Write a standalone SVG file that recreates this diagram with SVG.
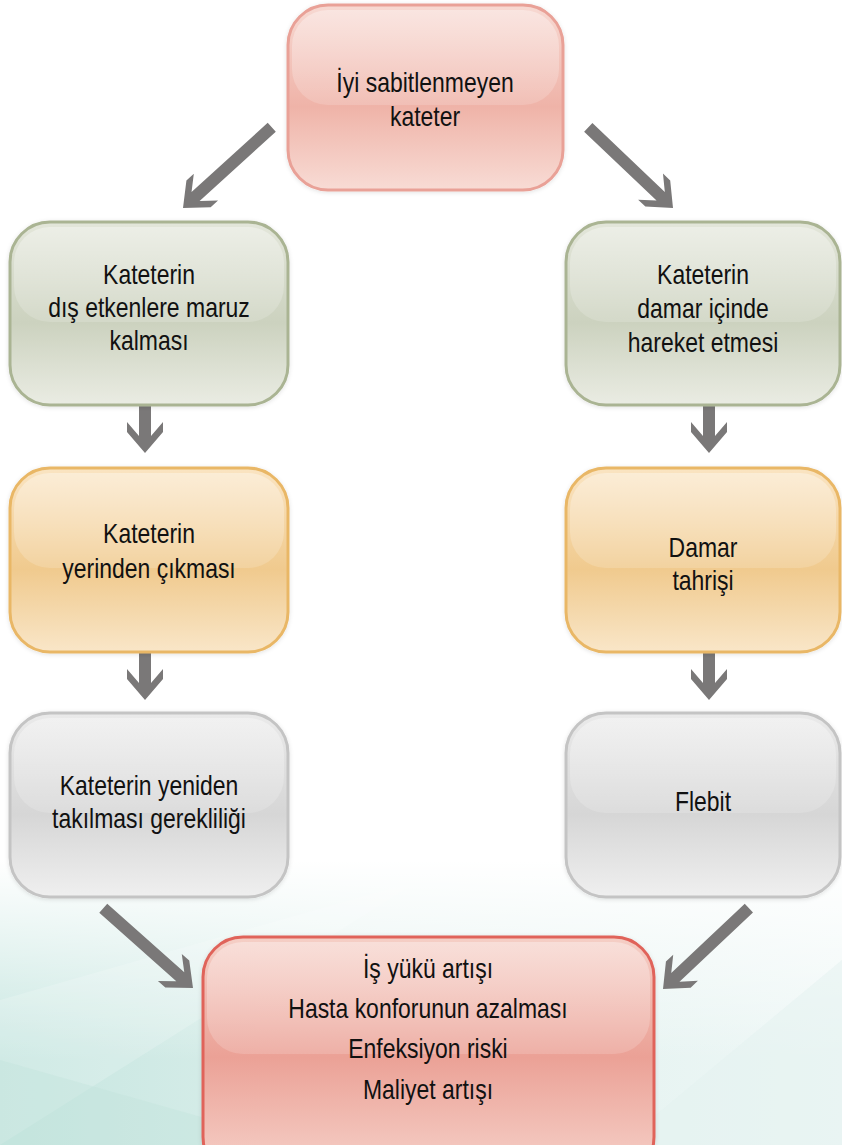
<svg xmlns="http://www.w3.org/2000/svg" width="842" height="1145" viewBox="0 0 842 1145">
<defs>
  <linearGradient id="bgV" x1="0" y1="0" x2="0" y2="1">
    <stop offset="0" stop-color="#ffffff" stop-opacity="1"/>
    <stop offset="1" stop-color="#ffffff" stop-opacity="0"/>
  </linearGradient>
  <linearGradient id="bgH" x1="0" y1="0" x2="1" y2="0">
    <stop offset="0" stop-color="#c6e6e0"/>
    <stop offset="0.45" stop-color="#dff0ed"/>
    <stop offset="1" stop-color="#eef7f6"/>
  </linearGradient>
  <linearGradient id="gRed" x1="0" y1="0" x2="0" y2="1">
    <stop offset="0" stop-color="#f7d9d2"/>
    <stop offset="0.55" stop-color="#efb3a8"/>
    <stop offset="1" stop-color="#f8dcd5"/>
  </linearGradient>
  <linearGradient id="gRed2" x1="0" y1="0" x2="0" y2="1">
    <stop offset="0" stop-color="#f5cfc6"/>
    <stop offset="0.5" stop-color="#eba196"/>
    <stop offset="1" stop-color="#f6d3cb"/>
  </linearGradient>
  <linearGradient id="gGreen" x1="0" y1="0" x2="0" y2="1">
    <stop offset="0" stop-color="#e3e6da"/>
    <stop offset="0.55" stop-color="#ccd2bf"/>
    <stop offset="1" stop-color="#eaece3"/>
  </linearGradient>
  <linearGradient id="gOrange" x1="0" y1="0" x2="0" y2="1">
    <stop offset="0" stop-color="#fae4c2"/>
    <stop offset="0.55" stop-color="#f0ca8e"/>
    <stop offset="1" stop-color="#f9e6c8"/>
  </linearGradient>
  <linearGradient id="gGray" x1="0" y1="0" x2="0" y2="1">
    <stop offset="0" stop-color="#eaeaea"/>
    <stop offset="0.55" stop-color="#d6d6d6"/>
    <stop offset="1" stop-color="#efefef"/>
  </linearGradient>
  <linearGradient id="gHi" x1="0" y1="0" x2="0" y2="1">
    <stop offset="0" stop-color="#ffffff" stop-opacity="0.35"/>
    <stop offset="1" stop-color="#ffffff" stop-opacity="0.15"/>
  </linearGradient>
  <filter id="sh" x="-10%" y="-10%" width="120%" height="120%">
    <feGaussianBlur in="SourceAlpha" stdDeviation="2"/>
    <feOffset dx="0" dy="1" result="b"/>
    <feFlood flood-color="#000" flood-opacity="0.12"/>
    <feComposite in2="b" operator="in"/>
    <feMerge><feMergeNode/><feMergeNode in="SourceGraphic"/></feMerge>
  </filter>
</defs>
<style>
  .box { stroke-width: 3; filter: url(#sh); }
  .red { fill: url(#gRed); stroke: #e9a197; }
  .red2 { fill: url(#gRed2); stroke: #e0645a; }
  .green { fill: url(#gGreen); stroke: #aab493; }
  .orange { fill: url(#gOrange); stroke: #e9b766; }
  .gray { fill: url(#gGray); stroke: #c4c4c4; }
  .hi { fill: url(#gHi); }
  .t { font-family: "Liberation Sans", Arial, sans-serif; font-size: 28px; fill: #111; text-anchor: middle; }
  .arr { fill: #7a7878; }
</style>

<rect width="842" height="1145" fill="#ffffff"/>
<g id="background">
  <rect x="0" y="860" width="842" height="285" fill="url(#bgH)"/>
  <rect x="0" y="860" width="842" height="200" fill="url(#bgV)"/>
  <polygon points="0,1000 420,880 0,1145" fill="#ffffff" opacity="0.18"/>
  <polygon points="0,1060 300,1145 0,1145" fill="#bfe2db" opacity="0.35"/>
  <polygon points="620,1145 842,960 842,1145" fill="#e3f1ef" opacity="0.5"/>
</g>

<g id="connectors">
  <polygon class="arr" transform="translate(183,208) rotate(47.7)" points="0,0 -18,-21 -18,-31 -6,-17 -6,-120 6,-120 6,-17 18,-31 18,-21"/>
  <polygon class="arr" transform="translate(673,208) rotate(-46.4)" points="0,0 -18,-21 -18,-31 -6,-17 -6,-117 6,-117 6,-17 18,-31 18,-21"/>
  <polygon class="arr" transform="translate(145,453)" points="0,0 -18,-21 -18,-31 -6,-17 -6,-48 6,-48 6,-17 18,-31 18,-21"/>
  <polygon class="arr" transform="translate(145,700)" points="0,0 -18,-21 -18,-31 -6,-17 -6,-48 6,-48 6,-17 18,-31 18,-21"/>
  <polygon class="arr" transform="translate(709,453)" points="0,0 -18,-21 -18,-31 -6,-17 -6,-48 6,-48 6,-17 18,-31 18,-21"/>
  <polygon class="arr" transform="translate(709,700)" points="0,0 -18,-21 -18,-31 -6,-17 -6,-48 6,-48 6,-17 18,-31 18,-21"/>
  <polygon class="arr" transform="translate(193,988) rotate(-48.4)" points="0,0 -18,-21 -18,-31 -6,-17 -6,-120 6,-120 6,-17 18,-31 18,-21"/>
  <polygon class="arr" transform="translate(663,989) rotate(46.7)" points="0,0 -18,-21 -18,-31 -6,-17 -6,-118 6,-118 6,-17 18,-31 18,-21"/>
</g>

<g id="n-top">
  <rect class="box red" x="288" y="5" width="275" height="185" rx="40"/>
  <rect class="hi" x="292" y="10" width="267" height="95" rx="36"/>
  <text class="t" transform="translate(425,92) scale(0.82,1)">İyi sabitlenmeyen</text>
  <text class="t" transform="translate(425,126) scale(0.82,1)">kateter</text>
</g>

<g id="n-left1">
  <rect class="box green" x="10" y="222" width="278" height="183" rx="40"/>
  <rect class="hi" x="14" y="227" width="270" height="95" rx="36"/>
  <text class="t" transform="translate(149,284) scale(0.82,1)">Kateterin</text>
  <text class="t" transform="translate(149,317) scale(0.82,1)">dış etkenlere maruz</text>
  <text class="t" transform="translate(149,350) scale(0.82,1)">kalması</text>
</g>

<g id="n-right1">
  <rect class="box green" x="566" y="222" width="274" height="183" rx="40"/>
  <rect class="hi" x="570" y="227" width="266" height="95" rx="36"/>
  <text class="t" transform="translate(703,284) scale(0.82,1)">Kateterin</text>
  <text class="t" transform="translate(703,318) scale(0.82,1)">damar içinde</text>
  <text class="t" transform="translate(703,352) scale(0.82,1)">hareket etmesi</text>
</g>

<g id="n-left2">
  <rect class="box orange" x="10" y="468" width="278" height="184" rx="40"/>
  <rect class="hi" x="14" y="473" width="270" height="95" rx="36"/>
  <text class="t" transform="translate(149,543) scale(0.82,1)">Kateterin</text>
  <text class="t" transform="translate(149,578) scale(0.82,1)">yerinden çıkması</text>
</g>

<g id="n-right2">
  <rect class="box orange" x="566" y="468" width="274" height="184" rx="40"/>
  <rect class="hi" x="570" y="473" width="266" height="95" rx="36"/>
  <text class="t" transform="translate(703,557) scale(0.82,1)">Damar</text>
  <text class="t" transform="translate(703,590) scale(0.82,1)">tahrişi</text>
</g>

<g id="n-left3">
  <rect class="box gray" x="10" y="713" width="278" height="184" rx="40"/>
  <rect class="hi" x="14" y="718" width="270" height="95" rx="36"/>
  <text class="t" transform="translate(149,795) scale(0.82,1)">Kateterin yeniden</text>
  <text class="t" transform="translate(149,828) scale(0.82,1)">takılması gerekliliği</text>
</g>

<g id="n-right3">
  <rect class="box gray" x="566" y="713" width="274" height="184" rx="40"/>
  <rect class="hi" x="570" y="718" width="266" height="95" rx="36"/>
  <text class="t" transform="translate(703,811) scale(0.82,1)">Flebit</text>
</g>

<g id="n-bottom">
  <rect class="box red2" x="203" y="937" width="451" height="240" rx="40"/>
  <rect class="hi" x="207" y="942" width="443" height="112" rx="36"/>
  <text class="t" transform="translate(428,978) scale(0.82,1)">İş yükü artışı</text>
  <text class="t" transform="translate(428,1018) scale(0.82,1)">Hasta konforunun azalması</text>
  <text class="t" transform="translate(428,1058) scale(0.82,1)">Enfeksiyon riski</text>
  <text class="t" transform="translate(428,1099) scale(0.82,1)">Maliyet artışı</text>
</g>
</svg>
